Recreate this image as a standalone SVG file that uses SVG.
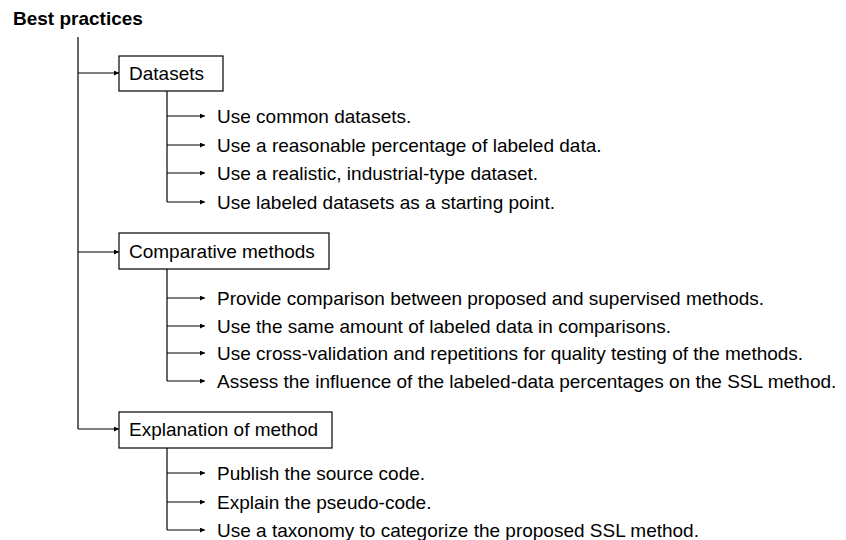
<svg xmlns="http://www.w3.org/2000/svg" width="846" height="540" viewBox="0 0 846 540">
<defs>
<marker id="ah" viewBox="0 0 8 8" refX="8" refY="4" markerWidth="5" markerHeight="5" markerUnits="userSpaceOnUse" orient="auto">
<path d="M0,0 L8,4 L0,8 z" fill="#000"/>
</marker>
</defs>
<style>
text{font-family:"Liberation Sans",Arial,sans-serif;font-size:19px;fill:#000}
.title{font-weight:bold;font-size:19px}
.box{fill:#fff;stroke:#000;stroke-width:1.2}
.ln{fill:none;stroke:#000;stroke-width:1.2}
.ar{fill:none;stroke:#000;stroke-width:1.2;marker-end:url(#ah)}
</style>
<rect width="846" height="540" fill="#fff"/>
<text class="title" x="13" y="25">Best practices</text>
<g id="connectors">
<path class="ln" d="M78,37 V429"/>
<path class="ar" d="M78,73 H119"/>
<path class="ar" d="M78,252 H119"/>
<path class="ar" d="M78,429 H119"/>
<path class="ln" d="M167,91 V202"/>
<path class="ar" d="M167,116 H205"/>
<path class="ar" d="M167,145 H205"/>
<path class="ar" d="M167,173 H205"/>
<path class="ar" d="M167,202 H205"/>
<path class="ln" d="M167,269 V381"/>
<path class="ar" d="M167,298 H205"/>
<path class="ar" d="M167,326 H205"/>
<path class="ar" d="M167,353 H205"/>
<path class="ar" d="M167,381 H205"/>
<path class="ln" d="M167,448 V530"/>
<path class="ar" d="M167,473 H205"/>
<path class="ar" d="M167,502 H205"/>
<path class="ar" d="M167,530 H205"/>
</g>
<g id="datasets">
<rect class="box" x="119" y="56" width="104" height="35"/>
<text x="129" y="80">Datasets</text>
</g>
<g id="d1"><text x="217" y="123">Use common datasets.</text></g>
<g id="d2"><text x="217" y="152">Use a reasonable percentage of labeled data.</text></g>
<g id="d3"><text x="217" y="180">Use a realistic, industrial-type dataset.</text></g>
<g id="d4"><text x="217" y="209">Use labeled datasets as a starting point.</text></g>
<g id="comparative">
<rect class="box" x="119" y="233" width="210" height="36"/>
<text x="129" y="258">Comparative methods</text>
</g>
<g id="c1"><text x="217" y="305">Provide comparison between proposed and supervised methods.</text></g>
<g id="c2"><text x="217" y="333">Use the same amount of labeled data in comparisons.</text></g>
<g id="c3"><text x="217" y="360">Use cross-validation and repetitions for quality testing of the methods.</text></g>
<g id="c4"><text x="217" y="388">Assess the influence of the labeled-data percentages on the SSL method.</text></g>
<g id="explanation">
<rect class="box" x="119" y="412" width="213" height="36"/>
<text x="129" y="436">Explanation of method</text>
</g>
<g id="e1"><text x="217" y="480">Publish the source code.</text></g>
<g id="e2"><text x="217" y="509">Explain the pseudo-code.</text></g>
<g id="e3"><text x="217" y="537">Use a taxonomy to categorize the proposed SSL method.</text></g>
</svg>
